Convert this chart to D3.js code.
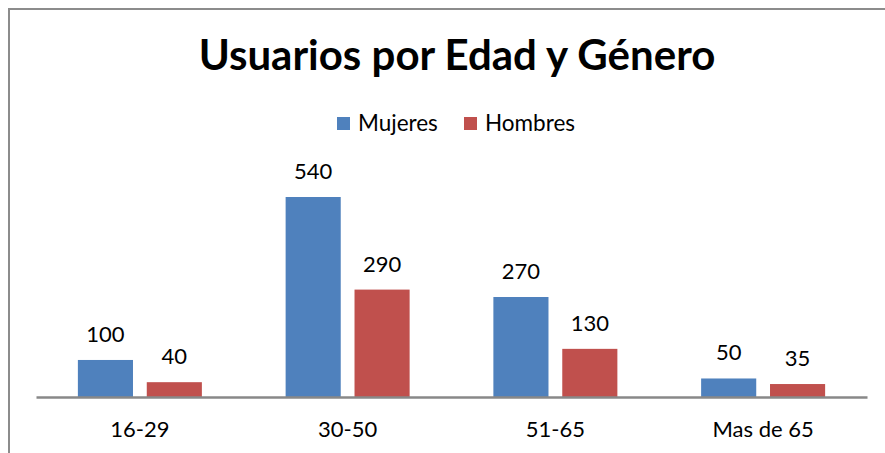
<!DOCTYPE html>
<html><head><meta charset="utf-8">
<script src="https://cdn.jsdelivr.net/npm/d3@7"></script>
<style>body{margin:0;background:#fff}svg{display:block}text{font-family:Lato,"Open Sans",sans-serif;fill:#000}</style>
</head><body><svg id="c" width="885" height="453"></svg>
<script>
const categories = ["16-29", "30-50", "51-65", "Mas de 65"];
const seriesNames = ["Mujeres", "Hombres"];
const mujeres = [100, 540, 270, 50];
const hombres = [40, 290, 130, 35];
const colors = ["#4F81BD", "#C0504D"];
const title = "Usuarios por Edad y Género";

const svg = d3.select("#c");
// frame
svg.append("path").attr("d","M9,453 V9 H885").attr("fill","none").attr("stroke","#8c8c8c").attr("stroke-width",2);

const groupW = 124;
const x0 = d3.scaleBand().domain(categories).range([36, 867]).paddingInner(0).paddingOuter(0);
const x1 = d3.scaleBand().domain(seriesNames).range([0, groupW]).paddingInner(0.2);
const y = d3.scaleLinear().domain([0, 540]).range([397, 197]);

const data = categories.map((c,i)=>({cat:c, vals:[mujeres[i], hombres[i]]}));
const g = svg.append("g");
const grp = g.selectAll("g.cat").data(data).join("g")
  .attr("transform", d=>`translate(${x0(d.cat)+(x0.bandwidth()-groupW)/2},0)`);
grp.selectAll("rect").data(d=>d.vals.map((v,j)=>({v, s:seriesNames[j], j})))
  .join("rect")
  .attr("x", d=>x1(d.s)).attr("width", x1.bandwidth())
  .attr("y", d=>y(d.v)).attr("height", d=>y(0)-y(d.v))
  .attr("fill", d=>colors[d.j]);
grp.selectAll("text.lbl").data(d=>d.vals.map((v,j)=>({v, s:seriesNames[j], j})))
  .join("text").attr("class","lbl")
  .attr("x", d=>x1(d.s)+x1.bandwidth()/2).attr("y", d=>y(d.v)-18)
  .attr("text-anchor","middle").attr("font-size",22).text(d=>d.v);

// axis
const axis = d3.axisBottom(x0).tickSize(0).tickPadding(0);
const ax = svg.append("g").attr("transform","translate(0,397)").call(axis);
ax.select(".domain").attr("stroke","#888").attr("stroke-width",2.5);
ax.selectAll("text").attr("font-size",22).attr("dy",null).attr("y",40).style("font-family","Lato");

// title
svg.append("text").attr("x",457).attr("y",70).attr("text-anchor","middle")
  .attr("font-size",42).attr("font-weight","bold").text(title);

// legend
const leg = svg.append("g");
const legX = [337, 464];
seriesNames.forEach((s,i)=>{
  leg.append("rect").attr("x",legX[i]).attr("y",117).attr("width",13).attr("height",13).attr("fill",colors[i]);
  leg.append("text").attr("x",legX[i]+21).attr("y",131).attr("font-size",22.5).text(s);
});
</script></body></html>
